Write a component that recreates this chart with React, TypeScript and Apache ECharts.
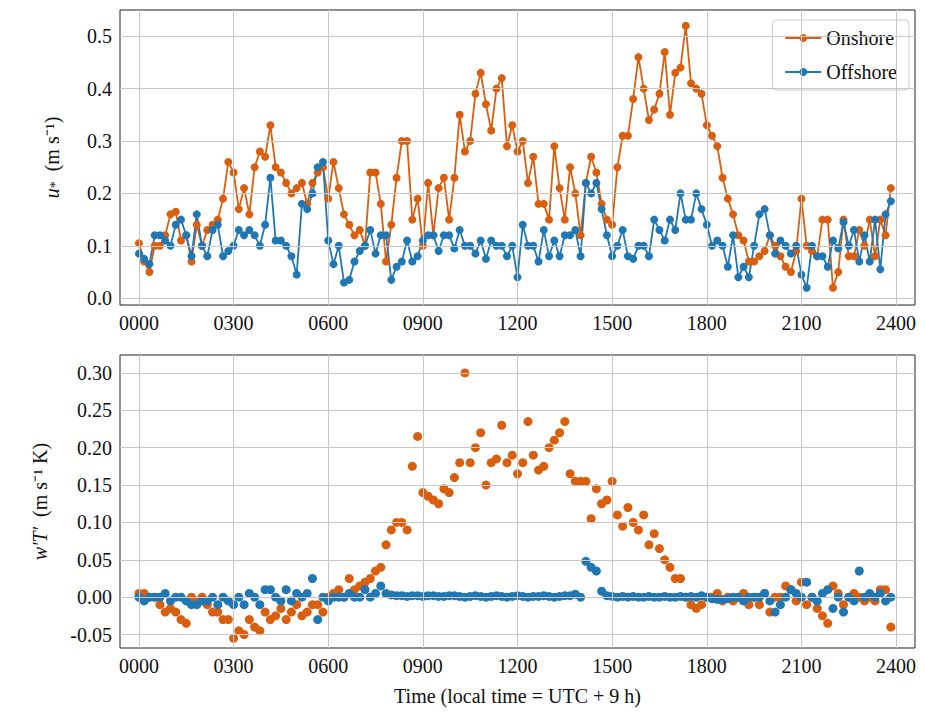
import * as echarts from "echarts";
import { useEffect, useRef } from "react";

const onshoreUstar = [
  0.105, 0.07, 0.05, 0.1, 0.1, 0.12,
  0.16, 0.165, 0.11, 0.12, 0.07, 0.14,
  0.1, 0.13, 0.14, 0.15, 0.19, 0.26,
  0.24, 0.17, 0.21, 0.16, 0.25, 0.28,
  0.27, 0.33, 0.25, 0.24, 0.22, 0.2,
  0.21, 0.22, 0.18, 0.22, 0.24, 0.25,
  0.19, 0.26, 0.21, 0.16, 0.14, 0.12,
  0.13, 0.1, 0.24, 0.24, 0.18, 0.07,
  0.14, 0.23, 0.3, 0.3, 0.15, 0.19,
  0.1, 0.22, 0.12, 0.21, 0.23, 0.15,
  0.23, 0.35, 0.28, 0.3, 0.39, 0.43,
  0.37, 0.32, 0.4, 0.42, 0.29, 0.33,
  0.28, 0.3, 0.22, 0.27, 0.18, 0.18,
  0.15, 0.29, 0.21, 0.15, 0.25, 0.2,
  0.12, 0.22, 0.27, 0.24, 0.18, 0.15,
  0.14, 0.25, 0.31, 0.31, 0.38, 0.46,
  0.4, 0.34, 0.36, 0.39, 0.47, 0.35,
  0.43, 0.44, 0.52, 0.41, 0.4, 0.39,
  0.33, 0.31, 0.29, 0.23, 0.19, 0.16,
  0.12, 0.11, 0.07, 0.07, 0.08, 0.09,
  0.12, 0.1, 0.08, 0.06, 0.05, 0.09,
  0.19, 0.1, 0.09, 0.08, 0.15, 0.15,
  0.02, 0.05, 0.15, 0.08, 0.08, 0.13,
  0.1, 0.15, 0.08, 0.15, 0.12, 0.21,
];

const offshoreUstar = [
  0.085, 0.075, 0.065, 0.12, 0.12, 0.11,
  0.1, 0.14, 0.15, 0.12, 0.08, 0.16,
  0.1, 0.08, 0.13, 0.14, 0.08, 0.09,
  0.1, 0.13, 0.12, 0.13, 0.12, 0.1,
  0.14, 0.23, 0.11, 0.11, 0.1, 0.08,
  0.045, 0.18, 0.17, 0.2, 0.25, 0.26,
  0.11, 0.065, 0.1, 0.03, 0.035, 0.07,
  0.09, 0.1, 0.13, 0.085, 0.12, 0.12,
  0.035, 0.06, 0.07, 0.11, 0.07, 0.08,
  0.11, 0.12, 0.12, 0.09, 0.12, 0.12,
  0.095, 0.13, 0.1, 0.1, 0.085, 0.11,
  0.075, 0.11, 0.1, 0.1, 0.08, 0.1,
  0.04, 0.14, 0.1, 0.1, 0.07, 0.13,
  0.08, 0.11, 0.08, 0.12, 0.12, 0.13,
  0.08, 0.22, 0.2, 0.22, 0.17, 0.12,
  0.08, 0.1, 0.13, 0.08, 0.075, 0.1,
  0.1, 0.08, 0.15, 0.13, 0.11, 0.15,
  0.13, 0.2, 0.15, 0.15, 0.2, 0.17,
  0.14, 0.1, 0.11, 0.1, 0.06, 0.12,
  0.04, 0.06, 0.04, 0.1, 0.16, 0.17,
  0.12, 0.085, 0.11, 0.1, 0.085, 0.1,
  0.045, 0.02, 0.1, 0.08, 0.08, 0.06,
  0.11, 0.095, 0.145, 0.1, 0.13, 0.07,
  0.12, 0.07, 0.15, 0.055, 0.16, 0.185,
];

const onshoreFlux = [
  0.005, 0.005, 0.0, 0.0, -0.01, -0.02,
  -0.015, -0.02, -0.03, -0.035, 0.0, -0.005,
  0.0, -0.01, -0.02, -0.02, -0.03, -0.03,
  -0.055, -0.045, -0.05, -0.03, -0.04, -0.045,
  -0.02, -0.03, -0.025, -0.015, -0.03, -0.02,
  -0.01, -0.025, -0.02, -0.01, -0.01, -0.02,
  0.0, 0.005, 0.01, 0.0, 0.025, 0.01,
  0.015, 0.02, 0.025, 0.035, 0.04, 0.07,
  0.09, 0.1, 0.1, 0.09, 0.175, 0.215,
  0.14, 0.135, 0.13, 0.125, 0.145, 0.14,
  0.16, 0.18, 0.3,
  0.18, 0.2, 0.22, 0.15, 0.18, 0.185,
  0.23, 0.18, 0.19, 0.165, 0.18, 0.235,
  0.19, 0.17, 0.175, 0.2, 0.21, 0.22,
  0.235, 0.165, 0.155, 0.155, 0.155, 0.105,
  0.145, 0.125, 0.13, 0.155, 0.11, 0.095,
  0.12, 0.1, 0.09, 0.11, 0.07, 0.085,
  0.065, 0.05, 0.04, 0.025, 0.025, 0.0,
  -0.01, -0.015, -0.01, 0.0, 0.0, 0.005,
  -0.005, 0.0, -0.005, 0.0, 0.005, -0.01,
  0.0, -0.01, 0.005,
  -0.02, 0.0, 0.0, 0.015, 0.01, -0.005,
  0.02, -0.01, 0.0, -0.015, -0.025, -0.035,
  0.015, 0.005, -0.01, 0.0, 0.005, 0.0,
  -0.005, 0.0, -0.005, 0.01, 0.01, -0.04,
];

const offshoreFlux = [
  0.0, -0.005, 0.0, 0.0, 0.0, 0.005,
  -0.005, 0.0, 0.0, -0.005, -0.01, -0.01,
  -0.005, -0.005, 0.0, -0.01, 0.0, -0.005,
  -0.01, 0.0, -0.01, 0.005, 0.0, -0.01,
  0.01, 0.01, 0.0, -0.005, 0.01, -0.005,
  0.005, 0.0, 0.005, 0.025, -0.03, 0.0,
  -0.005, 0.0, 0.0, 0.0, 0.005, 0.0,
  0.0, 0.01, 0.0, 0.005, 0.015, 0.005,
  0.003, 0.002, 0.002, 0.001, 0.002, 0.002,
  0.001, 0.002, 0.002, 0.001, 0.001, 0.002,
  0.002, 0.001, 0.0, 0.001, 0.002, 0.001,
  0.0, 0.001, 0.002, 0.001, 0.0, 0.001,
  0.002, 0.001, 0.0, 0.001, 0.001, 0.002,
  0.001, 0.0, 0.001, 0.002, 0.002, 0.004,
  0.0, 0.048, 0.04, 0.035, 0.008, 0.002,
  0.001, 0.0, 0.001, 0.0, 0.001, 0.0,
  0.0, 0.001, 0.0, 0.0, 0.001, 0.0,
  0.0, 0.001, 0.0, 0.001, 0.0, 0.002,
  0.0, -0.002, -0.003, -0.003, -0.002, 0.0,
  0.0, -0.005, 0.0, 0.0, 0.0, 0.005,
  -0.005, -0.02, -0.01, 0.0, 0.01, 0.005,
  0.0, 0.02, 0.0, -0.005, 0.005, 0.01,
  -0.015, 0.0, -0.02, 0.0, -0.005, 0.035,
  0.0, 0.005, 0.0, 0.005, -0.005, 0.0,
];

const hourTicks = [0, 3, 6, 9, 12, 15, 18, 21, 24];
const ustarTicks = [0, 0.1, 0.2, 0.3, 0.4, 0.5];
const fluxTicks = [-0.05, 0, 0.05, 0.1, 0.15, 0.2, 0.25, 0.3];
const orange = "#d95f0e";
const blue = "#1f77b4";
const font = "Liberation Serif";

const pts = (arr: number[]) => arr.map((v, i) => [i / 6, v]);

export default function App() {
  const ref = useRef<HTMLDivElement | null>(null);

  useEffect(() => {
    if (!ref.current) return;
    const chart = echarts.init(ref.current, null, { renderer: "svg" });
    const label = { fontFamily: font, fontSize: 20, color: "#111" };
    const xAxisBase = (gridIndex: number) => ({
      type: "value",
      gridIndex,
      min: -0.6,
      max: 24.6,
      axisLine: { show: false },
      axisTick: { show: true, customValues: hourTicks, length: 6, lineStyle: { color: "#000" } },
      axisLabel: {
        ...label,
        customValues: hourTicks,
        formatter: (v: number) => String(Math.round(v * 100)).padStart(4, "0"),
      },
      splitLine: { show: false },
    });
    const yAxisBase = (gridIndex: number, min: number, max: number, ticks: number[], digits: number) => ({
      type: "value",
      gridIndex,
      min,
      max,
      axisTick: { show: true, customValues: ticks, lineStyle: { color: "#000" } },
      axisLabel: { ...label, customValues: ticks, formatter: (v: number) => v.toFixed(digits) },
      axisLine: { show: false },
      splitLine: { show: false },
      nameLocation: "middle",
      nameRotate: 90,
    });
    chart.setOption({
      animation: false,
      backgroundColor: "#fff",
      grid: [
        { left: 120, right: 10, top: 10, height: 295, show: true, borderColor: "#222", borderWidth: 1 },
        { left: 120, right: 10, top: 355, height: 293, show: true, borderColor: "#222", borderWidth: 1 },
      ],
      legend: {
        data: ["Onshore", "Offshore"],
        right: 16,
        top: 20,
        orient: "vertical",
        itemWidth: 36,
        itemHeight: 10,
        itemGap: 14,
        padding: [8, 12],
        borderColor: "#ccc",
        borderWidth: 1,
        borderRadius: 4,
        backgroundColor: "#fff",
        textStyle: label,
      },
      xAxis: [
        xAxisBase(0),
        {
          ...xAxisBase(1),
          name: "Time (local time = UTC + 9 h)",
          nameLocation: "middle",
          nameGap: 38,
          nameTextStyle: label,
        },
      ],
      yAxis: [
        {
          ...yAxisBase(0, -0.013, 0.55, ustarTicks, 1),
          name: "{i|u}{s|*}  (m s⁻¹)",
          nameGap: 58,
          nameTextStyle: {
            ...label,
            rich: {
              i: { fontFamily: font, fontSize: 20, fontStyle: "italic" },
              s: { fontFamily: font, fontSize: 14, verticalAlign: "bottom" },
            },
          },
        },
        {
          ...yAxisBase(1, -0.068, 0.324, fluxTicks, 2),
          name: "{i|w′T′}  (m s⁻¹ K)",
          nameGap: 70,
          nameTextStyle: {
            ...label,
            rich: { i: { fontFamily: font, fontSize: 20, fontStyle: "italic" } },
          },
        },
      ],
      series: [
        // grid lines via markLine on an empty series per panel
        ...[0, 1].map((g) => ({
          type: "line",
          xAxisIndex: g,
          yAxisIndex: g,
          data: [],
          silent: true,
          z: 0,
          markLine: {
            symbol: "none",
            silent: true,
            label: { show: false },
            lineStyle: { color: "#c8c8c8", width: 1, type: "solid" },
            data: [
              ...hourTicks.map((h) => ({ xAxis: h })),
              ...(g === 0 ? ustarTicks : fluxTicks).map((v) => ({ yAxis: v })),
            ],
          },
        })),
        {
          name: "Onshore",
          type: "line",
          xAxisIndex: 0,
          yAxisIndex: 0,
          data: pts(onshoreUstar),
          symbol: "circle",
          symbolSize: 8,
          itemStyle: { color: orange },
          lineStyle: { color: orange, width: 1.8 },
        },
        {
          name: "Offshore",
          type: "line",
          xAxisIndex: 0,
          yAxisIndex: 0,
          data: pts(offshoreUstar),
          symbol: "circle",
          symbolSize: 8,
          itemStyle: { color: blue },
          lineStyle: { color: blue, width: 1.8 },
        },
        {
          name: "OnshoreFlux",
          type: "scatter",
          xAxisIndex: 1,
          yAxisIndex: 1,
          data: pts(onshoreFlux),
          symbolSize: 9,
          itemStyle: { color: orange, opacity: 1 },
        },
        {
          name: "OffshoreFlux",
          type: "scatter",
          xAxisIndex: 1,
          yAxisIndex: 1,
          data: pts(offshoreFlux),
          symbolSize: 9,
          itemStyle: { color: blue, opacity: 1 },
        },
      ],
    });
    return () => chart.dispose();
  }, []);

  return <div ref={ref} style={{ width: 925, height: 718, margin: -8 }} />;
}
